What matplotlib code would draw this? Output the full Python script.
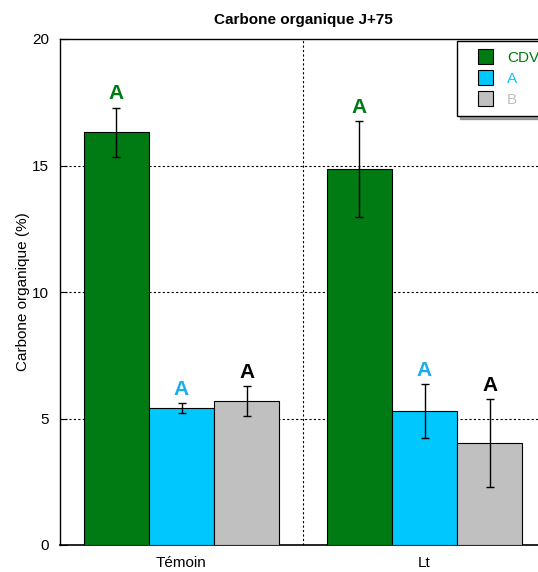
import matplotlib
matplotlib.use("Agg")
import matplotlib.pyplot as plt
from matplotlib.lines import Line2D
import numpy as np

plt.rcParams['font.family'] = ['Liberation Sans', 'DejaVu Sans']

groups = ["Témoin", "Lt"]
series = ["CDV", "A", "B"]
values = {"CDV": [16.32, 14.86], "A": [5.41, 5.30], "B": [5.69, 4.03]}
errors = {"CDV": [0.97, 1.90], "A": [0.20, 1.06], "B": [0.60, 1.74]}
letters = {"CDV": ["A", "A"], "A": ["A", "A"], "B": ["A", "A"]}
colors = {"CDV": "#007a12", "A": "#00c8ff", "B": "#c0c0c0"}
letter_colors = {"CDV": "#007a12", "A": "#1aaee8", "B": "#000000"}
legend_text_colors = {"CDV": "#007a12", "A": "#00c8ff", "B": "#c0c0c0"}

fig = plt.figure(figsize=(5.38, 5.72), dpi=100)
ax = fig.add_axes([60/538, (572-545)/572, (546-60)/538, (545-39)/572])

x = np.arange(len(groups))
w = 0.268
for i, s in enumerate(series):
    pos = x + (i - 1) * w
    ax.bar(pos, values[s], width=w, color=colors[s], edgecolor="black", linewidth=0.8, zorder=3)
    ax.errorbar(pos, values[s], yerr=errors[s], fmt="none", ecolor="black", elinewidth=1, capsize=3, capthick=1, zorder=4)
    for j in range(len(groups)):
        ax.annotate(letters[s][j], (pos[j], values[s][j] + errors[s][j]), xytext=(0, 3),
                    textcoords="offset points", ha="center", va="bottom",
                    fontsize=15, fontweight="bold", color=letter_colors[s])

ax.set_xlim(-0.5, 1.5)
ax.set_ylim(0, 20)
ax.set_yticks([0, 5, 10, 15, 20])
ax.set_xticks(x)
ax.set_xticklabels(groups, fontsize=11)
ax.tick_params(axis='y', labelsize=11, direction='in', length=5, pad=8)
ax.tick_params(axis='x', length=0, pad=8)
ax.set_ylabel("Carbone organique (%)", fontsize=11)
ax.yaxis.set_label_coords((30 - 60) / 486, 0.5)
ax.set_title("Carbone organique J+75", fontsize=11, fontweight="bold", pad=11)

for yv in [5, 10, 15]:
    ax.axhline(yv, color="black", linestyle=(0, (2, 2)), linewidth=0.8, zorder=1)
ax.axvline(0.5, color="black", linestyle=(0, (2, 2)), linewidth=0.8, zorder=1)

for sp in ["top", "left", "right"]:
    ax.spines[sp].set_linestyle((0, (2, 1)))
    ax.spines[sp].set_linewidth(1)
ax.spines["bottom"].set_linewidth(1.2)

handles = [Line2D([], [], linestyle="none", marker="s", markersize=10.8,
                  markerfacecolor=colors[s], markeredgecolor="black", markeredgewidth=0.8)
           for s in series]
leg = ax.legend(handles, series, loc="upper right", bbox_to_anchor=(1.008, 1.0), fontsize=11, frameon=True,
                fancybox=False, shadow=True, edgecolor="black", handlelength=2.4, handleheight=1.0,
                borderaxespad=0.1, labelspacing=0.4, handletextpad=0.25, borderpad=0.6)
leg.get_frame().set_linewidth(1)
for t, s in zip(leg.get_texts(), series):
    t.set_color(legend_text_colors[s])

fig.savefig("out.png", dpi=100)
